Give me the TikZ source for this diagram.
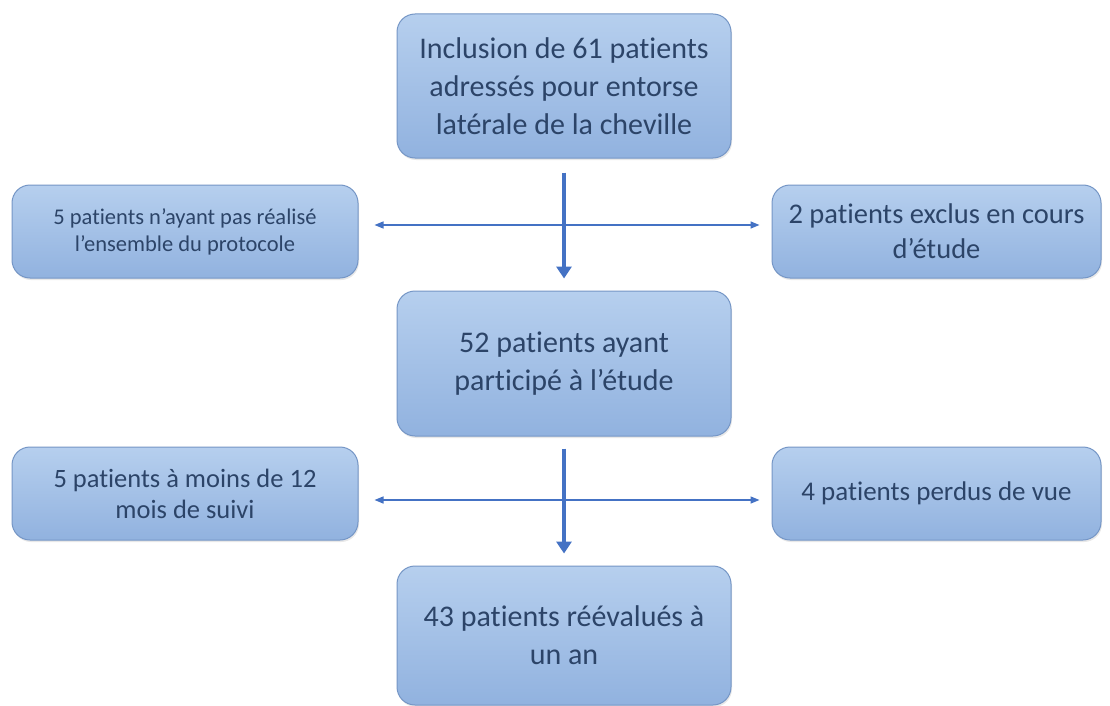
\documentclass[tikz,border=0pt]{standalone}
\usepackage{fontspec}
\setmainfont[Ligatures={NoCommon}]{Carlito}
\usetikzlibrary{arrows.meta,shadows}
\definecolor{boxtop}{HTML}{B6CFEE}
\definecolor{boxbot}{HTML}{91B2DF}
\definecolor{boxline}{HTML}{7596C6}
\definecolor{txt}{HTML}{2C4468}
\definecolor{arr}{HTML}{4472C4}
\begin{document}
\begin{tikzpicture}[x=1pt,y=-1pt,
  box/.style={rectangle, rounded corners=18pt, draw=boxline, line width=1pt,
    top color=boxtop, bottom color=boxbot, text=txt, align=center, inner sep=0pt,
    drop shadow={opacity=0.18, shadow xshift=1pt, shadow yshift=-2pt}},
  bigtext/.style={font=\fontsize{30}{38}\selectfont},
  mainarrow/.style={draw=arr, line width=4pt, -{Triangle[length=12pt,width=15pt]}},
  sidearrow/.style={draw=arr, line width=1.4pt, {Triangle[length=9pt,width=7pt]}-{Triangle[length=9pt,width=7pt]}}
]
\useasboundingbox[fill=white] (0,0) rectangle (1110,706);

\node[box, bigtext, minimum width=334pt, minimum height=144pt] (top) at (564,86)
  {Inclusion de 61 patients\\adressés pour entorse\\latérale de la cheville};
\node[box, minimum width=346pt, minimum height=93pt, font=\fontsize{22.5}{27}\selectfont] (left1) at (185,231.5)
  {5 patients n’ayant pas réalisé\\l’ensemble du protocole};
\node[box, minimum width=329pt, minimum height=93pt, font=\fontsize{28.5}{35}\selectfont] (right1) at (936.5,231.5)
  {2 patients exclus en cours\\d’étude};
\node[box, bigtext, minimum width=334pt, minimum height=145pt] (mid) at (564,363.5)
  {52 patients ayant\\participé à l’étude};
\node[box, minimum width=346pt, minimum height=93pt, font=\fontsize{26.5}{31}\selectfont] (left2) at (185,493.5)
  {5 patients à moins de 12\\mois de suivi};
\node[box, minimum width=329pt, minimum height=93pt, font=\fontsize{27}{33}\selectfont] (right2) at (936.5,493.5)
  {4 patients perdus de vue};
\node[box, bigtext, minimum width=334pt, minimum height=139pt] (bot) at (564,635.5)
  {43 patients réévalués à\\un an};

\draw[sidearrow, shorten <=16pt, shorten >=12pt] ([yshift=6.5pt]left1.east) -- ([yshift=6.5pt]right1.west);
\draw[mainarrow, shorten <=14pt, shorten >=12pt] (top.south) -- (mid.north);
\draw[sidearrow, shorten <=16pt, shorten >=12pt] ([yshift=-6.5pt]left2.east) -- ([yshift=-6.5pt]right2.west);
\draw[mainarrow, shorten <=12pt, shorten >=12pt] (mid.south) -- (bot.north);
\end{tikzpicture}
\end{document}
